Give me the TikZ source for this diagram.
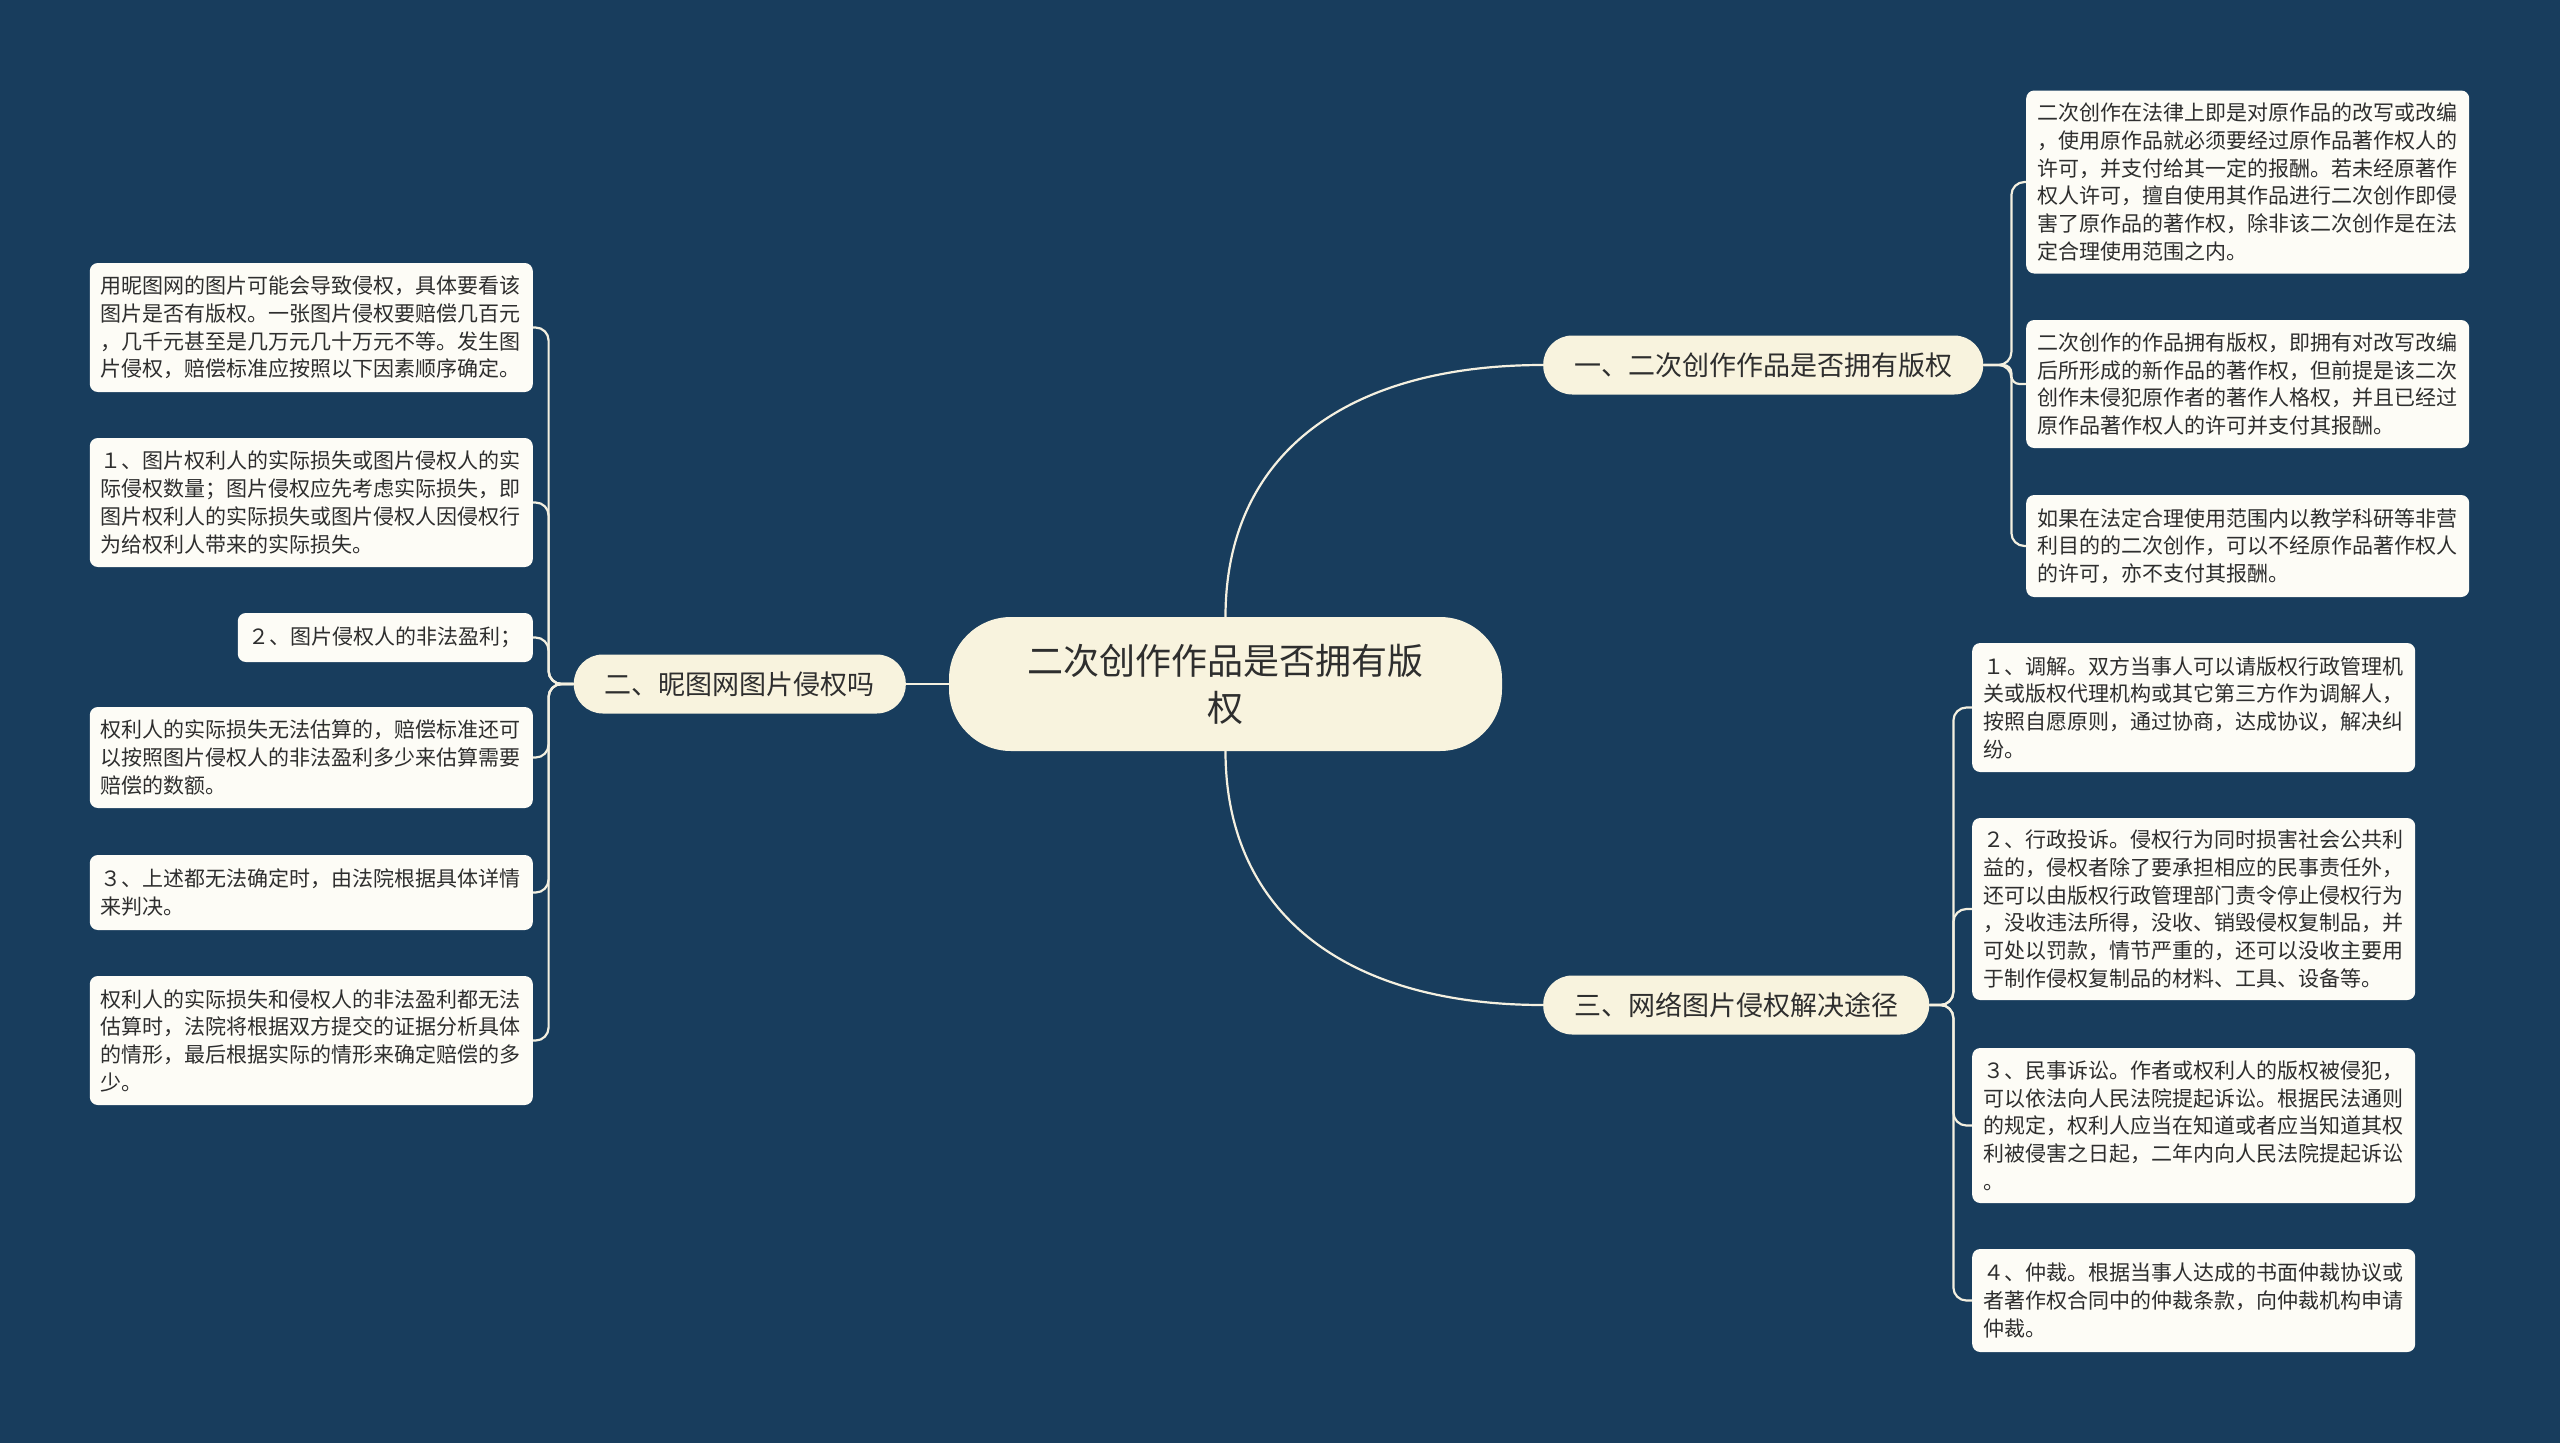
\documentclass[tikz,border=0pt]{standalone}
\usepackage{fontspec}
\setmainfont{Noto Sans CJK SC}
\usetikzlibrary{calc}
\definecolor{bg}{HTML}{183D5D}
\definecolor{cream}{HTML}{F8F3DE}
\definecolor{leaffill}{HTML}{FDFCF6}
\definecolor{ink}{HTML}{2E2E2E}
\definecolor{linec}{HTML}{F4F0E0}
\begin{document}
\begin{tikzpicture}[x=1pt,y=-1pt,
  rootbox/.style={fill=cream, rounded corners=62pt, minimum width=553pt, minimum height=134pt, align=center, font=\fontsize{36}{47}\selectfont, text=ink, inner sep=0pt},
  branchbox/.style={fill=cream, rounded corners=29pt, minimum height=59pt, inner xsep=31pt, inner ysep=0pt, font=\fontsize{27}{32}\selectfont, text=ink},
  leafbase/.style={fill=leaffill, rounded corners=8pt, inner xsep=11pt, inner ysep=0pt, font=\fontsize{21}{27.7}\selectfont, text=ink},
  leafbox/.style={leafbase, text width=421pt, align=left},
  conn/.style={draw=linec, line width=2.2pt, rounded corners=13pt},
  curve/.style={draw=linec, line width=2.2pt}
]
\fill[bg] (0,0) rectangle (2560,1443);
\useasboundingbox (0,0) rectangle (2560,1443);

% root and branches
\node[rootbox] (root) at (1225.5,684) {二次创作作品是否拥有版\\权};
\node[branchbox, anchor=west] (b1) at (1543,365) {一、二次创作作品是否拥有版权};
\node[branchbox, anchor=west] (b3) at (1543,1005) {三、网络图片侵权解决途径};
\node[branchbox, anchor=east] (b2) at (906,684) {二、昵图网图片侵权吗};

% right top leaves
\node[leafbox, anchor=west, minimum height=183pt] (la) at (2026,182) {二次创作在法律上即是对原作品的改写或改编\\，使用原作品就必须要经过原作品著作权人的\\许可，并支付给其一定的报酬。若未经原著作\\权人许可，擅自使用其作品进行二次创作即侵\\害了原作品的著作权，除非该二次创作是在法\\定合理使用范围之内。};
\node[leafbox, anchor=west, minimum height=128pt] (lb) at (2026,384) {二次创作的作品拥有版权，即拥有对改写改编\\后所形成的新作品的著作权，但前提是该二次\\创作未侵犯原作者的著作人格权，并且已经过\\原作品著作权人的许可并支付其报酬。};
\node[leafbox, anchor=west, minimum height=102pt] (lc) at (2026,546) {如果在法定合理使用范围内以教学科研等非营\\利目的的二次创作，可以不经原作品著作权人\\的许可，亦不支付其报酬。};

% right bottom leaves
\node[leafbox, anchor=west, minimum height=129pt] (ld) at (1972,707.5) {１、调解。双方当事人可以请版权行政管理机\\关或版权代理机构或其它第三方作为调解人，\\按照自愿原则，通过协商，达成协议，解决纠\\纷。};
\node[leafbox, anchor=west, minimum height=182pt] (le) at (1972,909) {２、行政投诉。侵权行为同时损害社会公共利\\益的，侵权者除了要承担相应的民事责任外，\\还可以由版权行政管理部门责令停止侵权行为\\，没收违法所得，没收、销毁侵权复制品，并\\可处以罚款，情节严重的，还可以没收主要用\\于制作侵权复制品的材料、工具、设备等。};
\node[leafbox, anchor=west, minimum height=155pt] (lf) at (1972,1125.5) {３、民事诉讼。作者或权利人的版权被侵犯，\\可以依法向人民法院提起诉讼。根据民法通则\\的规定，权利人应当在知道或者应当知道其权\\利被侵害之日起，二年内向人民法院提起诉讼\\。};
\node[leafbox, anchor=west, minimum height=103pt] (lg) at (1972,1300.5) {４、仲裁。根据当事人达成的书面仲裁协议或\\者著作权合同中的仲裁条款，向仲裁机构申请\\仲裁。};

% left leaves
\node[leafbox, anchor=east, minimum height=129pt] (lh) at (533,327.5) {用昵图网的图片可能会导致侵权，具体要看该\\图片是否有版权。一张图片侵权要赔偿几百元\\，几千元甚至是几万元几十万元不等。发生图\\片侵权，赔偿标准应按照以下因素顺序确定。};
\node[leafbox, anchor=east, minimum height=129pt] (li) at (533,502.5) {１、图片权利人的实际损失或图片侵权人的实\\际侵权数量；图片侵权应先考虑实际损失，即\\图片权利人的实际损失或图片侵权人因侵权行\\为给权利人带来的实际损失。};
\node[leafbase, anchor=east, minimum height=49pt] (lj) at (533,637.5) {２、图片侵权人的非法盈利；};
\node[leafbox, anchor=east, minimum height=101pt] (lk) at (533,757.5) {权利人的实际损失无法估算的，赔偿标准还可\\以按照图片侵权人的非法盈利多少来估算需要\\赔偿的数额。};
\node[leafbox, anchor=east, minimum height=75pt] (ll) at (533,892.5) {３、上述都无法确定时，由法院根据具体详情\\来判决。};
\node[leafbox, anchor=east, minimum height=129pt] (lm) at (533,1040.5) {权利人的实际损失和侵权人的非法盈利都无法\\估算时，法院将根据双方提交的证据分析具体\\的情形，最后根据实际的情形来确定赔偿的多\\少。};

% root to branches
\draw[curve] (root.north) .. controls ($(root.north)+(0,-160)$) and ($(b1.west)+(-200,0)$) .. (b1.west);
\draw[curve] (root.south) .. controls ($(root.south)+(0,160)$) and ($(b3.west)+(-200,0)$) .. (b3.west);
\draw[curve] (root.west) -- (b2.east);

% branch 1 to leaves
\draw[conn] (b1.east) -- ++(28,0) |- (la.west);
\draw[conn, rounded corners=8pt] (b1.east) -- ++(28,0) |- (lb.west);
\draw[conn] (b1.east) -- ++(28,0) |- (lc.west);

% branch 3 to leaves
\draw[conn] (b3.east) -- ++(24,0) |- (ld.west);
\draw[conn] (b3.east) -- ++(24,0) |- (le.west);
\draw[conn] (b3.east) -- ++(24,0) |- (lf.west);
\draw[conn] (b3.east) -- ++(24,0) |- (lg.west);

% branch 2 to leaves
\draw[conn] (b2.west) -- ++(-25,0) |- (lh.east);
\draw[conn] (b2.west) -- ++(-25,0) |- (li.east);
\draw[conn] (b2.west) -- ++(-25,0) |- (lj.east);
\draw[conn] (b2.west) -- ++(-25,0) |- (lk.east);
\draw[conn] (b2.west) -- ++(-25,0) |- (ll.east);
\draw[conn] (b2.west) -- ++(-25,0) |- (lm.east);
\end{tikzpicture}
\end{document}
